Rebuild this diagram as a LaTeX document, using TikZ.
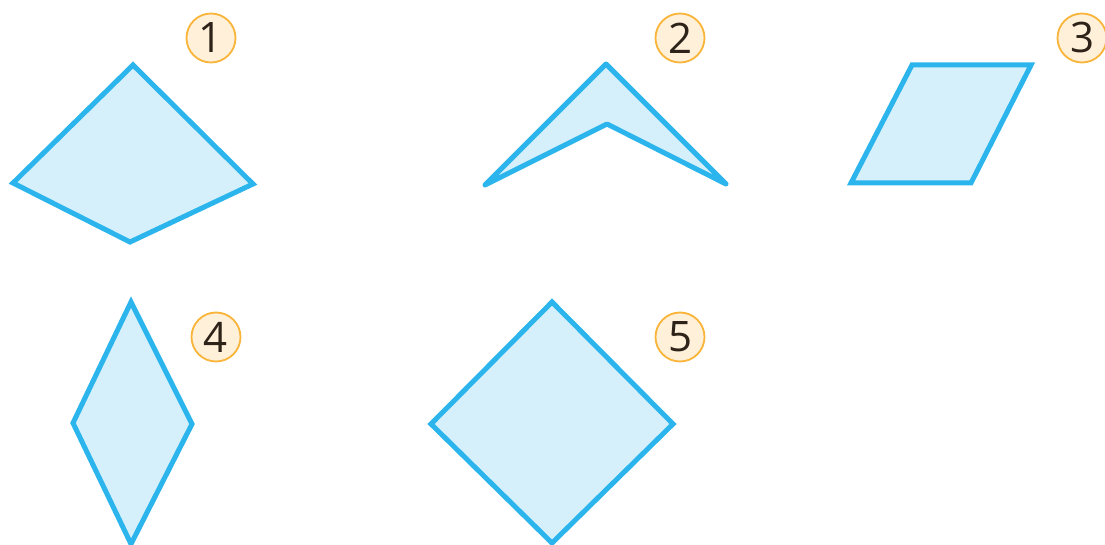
\documentclass[tikz,border=0pt]{standalone}
\usepackage{fontspec}
\setmainfont{Open Sans}
\definecolor{edgeblue}{HTML}{2BB5EC}
\definecolor{fillblue}{HTML}{D6F0FB}
\definecolor{badgefill}{HTML}{FFF0D9}
\definecolor{badgeedge}{HTML}{F9B43A}
\definecolor{digitcol}{HTML}{2D2318}
\tikzset{
  quad/.style={line width=5pt, draw=edgeblue, fill=fillblue},
  badge/.style={circle, draw=badgeedge, fill=badgefill, line width=1.8pt,
    minimum size=49pt, inner sep=0pt, text=digitcol,
    font=\fontsize{42}{42}\selectfont}
}
\begin{document}
\begin{tikzpicture}[x=1pt, y=-1pt]
        \useasboundingbox (0,0) rectangle (1105,545);
        \clip (0,0) rectangle (1105,545);

        % Kite 1
        \draw[quad] (133,65) -- (253,184) -- (130,242) -- (13,183) -- cycle;
        \node[badge] (n1) at (211,38) {1};

        % Dart 2
        \draw[quad, line join=round] (606,64) -- (726,184) -- (607,124) -- (485,185) -- cycle;
        \node[badge] (n2) at (680,38) {2};

        % Parallelogram 3
        \draw[quad] (912,65) -- (1031,65) -- (971,183) -- (851,183) -- cycle;
        \node[badge] (n3) at (1082,38) {3};

        % Rhombus 4
        \draw[quad] (131,302) -- (192,424) -- (131,544) -- (73,423) -- cycle;
        \node[badge] (n4) at (216,337) {4};

        % Square 5
        \draw[quad] (552,302) -- (673,424) -- (552,543) -- (431,424) -- cycle;
        \node[badge] (n5) at (680,337) {5};
    \end{tikzpicture}
\end{document}
